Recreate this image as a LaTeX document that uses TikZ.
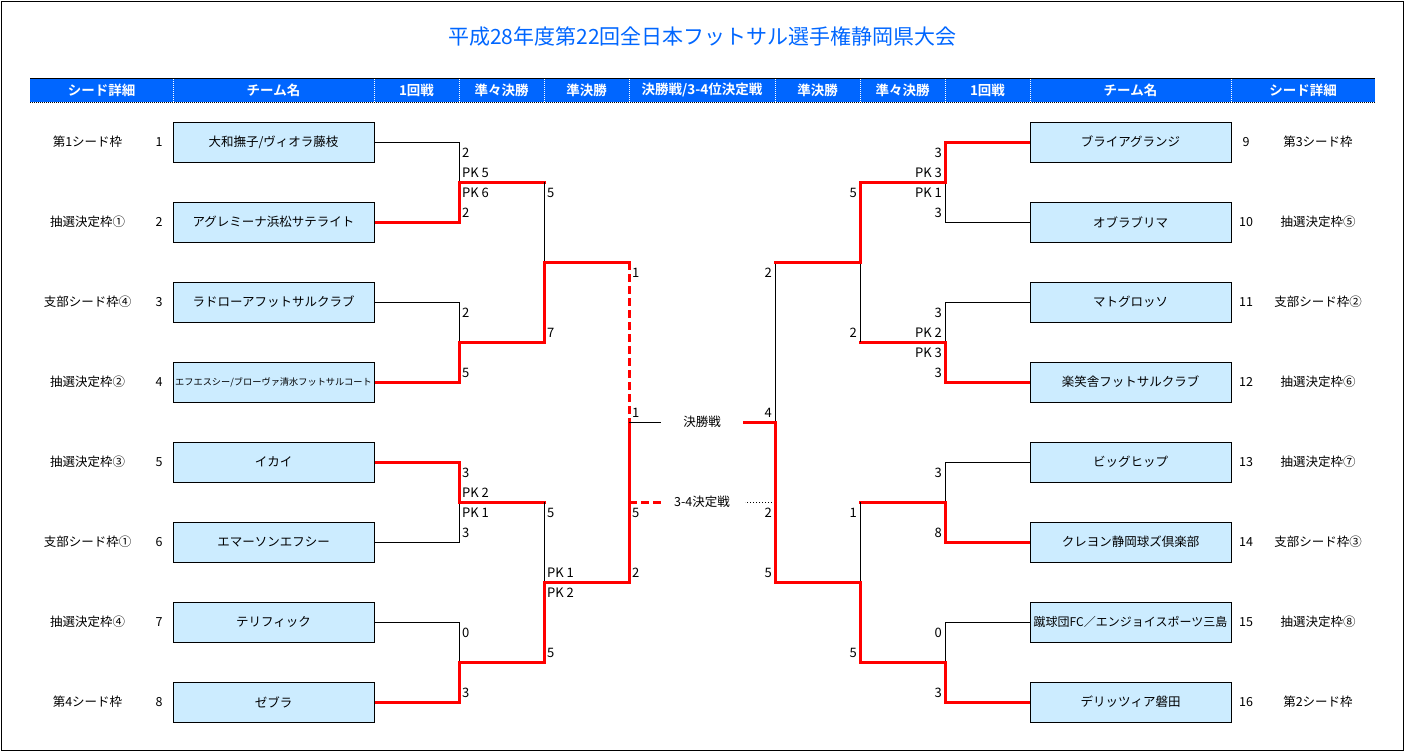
\documentclass[tikz,border=0pt]{standalone}
\usepackage{fontspec}
\setmainfont{Noto Sans CJK JP}[BoldFont={Noto Sans CJK JP Bold}]
\usetikzlibrary{backgrounds}
\definecolor{hdrblue}{RGB}{0,102,255}
\definecolor{boxblue}{RGB}{204,236,255}
\definecolor{winred}{RGB}{255,0,0}
\begin{document}
\begin{tikzpicture}[x=1pt,y=-1pt,
  team/.style={draw=black, line width=1pt, fill=boxblue, minimum width=201pt, minimum height=40pt, inner sep=0pt, font=\fontsize{12.5}{15}\selectfont},
  seedtxt/.style={inner sep=0pt, font=\fontsize{12.5}{15}\selectfont},
  numtxt/.style={inner sep=0pt, font=\fontsize{12.5}{15}\selectfont},
  scl/.style={inner sep=0pt, text height=0.73em, text depth=0pt, font=\fontsize{13}{15}\selectfont},
  hdr/.style={inner sep=0pt, text=white, font=\fontsize{13.5}{16}\selectfont\bfseries},
  lose/.style={line width=1pt, black},
  win/.style={line width=3pt, winred, line cap=rect},
  windash/.style={line width=3pt, winred, line cap=butt, dash pattern=on 8pt off 4pt},
  dotline/.style={line width=1pt, black, dash pattern=on 1pt off 2pt},
  midtxt/.style={inner sep=0pt, font=\fontsize{12.5}{15}\selectfont}
]
\useasboundingbox (0,0) rectangle (1405,753);
\draw[line width=1.2pt] (1.5,1.5) rectangle (1403.5,750.5);
\node[text=hdrblue, font=\fontsize{21}{25}\selectfont, inner sep=0pt] (title) at (702.5,37) {平成28年度第22回全日本フットサル選手権静岡県大会};
% header bar
\fill[hdrblue] (30,78) rectangle (1375,102);
\draw[line width=1pt] (30,78.5) -- (1375,78.5);
\draw[line width=1pt, dash pattern=on 1pt off 1pt] (30,102.5) -- (1375,102.5);
\foreach \x in {173,374,459,544,629,775,860,945,1030,1231}
  \draw[white, line width=1pt, dash pattern=on 1pt off 1pt] (\x,79) -- (\x,102);
\foreach \xx/\tt [count=\i] in {101.5/シード詳細, 273.5/チーム名, 416.5/1回戦, 501.5/準々決勝, 586.5/準決勝, 702/決勝戦{/}3-4位決定戦, 817.5/準決勝, 902.5/準々決勝, 987.5/1回戦, 1130.5/チーム名, 1303/シード詳細}
  \node[hdr] (h\i) at (\xx,90) {\tt};
% teams
\node[team] (t1) at (273.5,142) {大和撫子/ヴィオラ藤枝};
\node[team] (t2) at (273.5,222) {アグレミーナ浜松サテライト};
\node[team] (t3) at (273.5,302) {ラドローアフットサルクラブ};
\node[team, font=\fontsize{9.2}{11}\selectfont] (t4) at (273.5,382) {エフエスシー/ブローヴァ清水フットサルコート};
\node[team] (t5) at (273.5,462) {イカイ};
\node[team] (t6) at (273.5,542) {エマーソンエフシー};
\node[team] (t7) at (273.5,622) {テリフィック};
\node[team] (t8) at (273.5,702) {ゼブラ};
\node[team] (t9) at (1130.5,142) {ブライアグランジ};
\node[team] (t10) at (1130.5,222) {オブラブリマ};
\node[team] (t11) at (1130.5,302) {マトグロッソ};
\node[team] (t12) at (1130.5,382) {楽笑舎フットサルクラブ};
\node[team] (t13) at (1130.5,462) {ビッグヒップ};
\node[team] (t14) at (1130.5,542) {クレヨン静岡球ズ倶楽部};
\node[team, font=\fontsize{12}{14}\selectfont] (t15) at (1130.5,622) {蹴球団FC／エンジョイスポーツ三島};
\node[team] (t16) at (1130.5,702) {デリッツィア磐田};
% seeds and numbers
\foreach \s [count=\i] in {第1シード枠,抽選決定枠①,支部シード枠④,抽選決定枠②,抽選決定枠③,支部シード枠①,抽選決定枠④,第4シード枠}{
  \node[seedtxt] (sdl\i) at (87.5,{62+80*\i}) {\s};
  \node[numtxt] (nl\i) at (159,{62+80*\i}) {\i};
}
\foreach \s [count=\i] in {第3シード枠,抽選決定枠⑤,支部シード枠②,抽選決定枠⑥,抽選決定枠⑦,支部シード枠③,抽選決定枠⑧,第2シード枠}{
  \node[seedtxt] (sdr\i) at (1318,{62+80*\i}) {\s};
  \node[numtxt] (nr\i) at (1246,{62+80*\i}) {\the\numexpr\i+8\relax};
}
% junction coordinates
\coordinate (a1) at (459,182); \coordinate (a2) at (459,342);
\coordinate (a3) at (459,502); \coordinate (a4) at (459,662);
\coordinate (b1) at (544,182); \coordinate (b2) at (544,342);
\coordinate (b3) at (544,502); \coordinate (b4) at (544,662);
\coordinate (c1) at (544,262); \coordinate (c2) at (544,582);
\coordinate (d1) at (629,262); \coordinate (d2) at (629,582);
\coordinate (fL) at (629,422); \coordinate (tL) at (629,502);
\coordinate (fLe) at (661,422); \coordinate (tLe) at (661,502);
\coordinate (a5) at (945,182); \coordinate (a6) at (945,342);
\coordinate (a7) at (945,502); \coordinate (a8) at (945,662);
\coordinate (b5) at (860,182); \coordinate (b6) at (860,342);
\coordinate (b7) at (860,502); \coordinate (b8) at (860,662);
\coordinate (c3) at (860,262); \coordinate (c4) at (860,582);
\coordinate (d3) at (775,262); \coordinate (d4) at (775,582);
\coordinate (fR) at (775,422); \coordinate (tR) at (775,502);
\coordinate (fRe) at (744,422); \coordinate (tRe) at (745,502);
% middle labels
\node[midtxt] (final) at (702,422) {決勝戦};
\node[midtxt] (third) at (702,502) {3-4決定戦};
\begin{scope}[on background layer]
% left side
\draw[lose] (t1.east) -| (a1);
\draw[win] (t2.east) -| (a1) -- (b1);
\draw[lose] (t3.east) -| (a2);
\draw[win] (t4.east) -| (a2) -- (b2);
\draw[lose] (t6.east) -| (a3);
\draw[win] (t5.east) -| (a3) -- (b3);
\draw[lose] (t7.east) -| (a4);
\draw[win] (t8.east) -| (a4) -- (b4);
\draw[lose] (b1) -- (c1);
\draw[lose] (b3) -- (c2);
\draw[windash] (d1) -- (tL) -- (tLe);
\draw[win] (b2) -- (c1) -- (d1);
\draw[win] (b4) -- (c2) -- (d2) -- (fL);
\draw[lose] (fL) -- (fLe);
% right side
\draw[lose] (t10.west) -| (a5);
\draw[win] (t9.west) -| (a5) -- (b5);
\draw[lose] (t11.west) -| (a6);
\draw[win] (t12.west) -| (a6) -- (b6);
\draw[lose] (t13.west) -| (a7);
\draw[win] (t14.west) -| (a7) -- (b7);
\draw[lose] (t15.west) -| (a8);
\draw[win] (t16.west) -| (a8) -- (b8);
\draw[lose] (b6) -- (c3);
\draw[lose] (b7) -- (c4);
\draw[lose] (d3) -- (fR);
\draw[dotline] (tR) -- (tRe);
\draw[win] (b5) -- (c3) -- (d3);
\draw[win] (b8) -- (c4) -- (d4) -- (fR) -- (fRe);
\end{scope}
% score labels, left of bracket lines
\foreach \yy/\tt [count=\i] in {153.5/2,173.5/PK 5,193.5/PK 6,213.5/2,313.5/2,373.5/5,473.5/3,493.5/PK 2,513.5/PK 1,533.5/3,633.5/0,693.5/3}
  \node[scl, anchor=west] (la\i) at (462,\yy) {\tt};
\foreach \yy/\tt [count=\i] in {193.5/5,333.5/7,513.5/5,573.5/PK 1,593.5/PK 2,653.5/5}
  \node[scl, anchor=west] (lb\i) at (547,\yy) {\tt};
\foreach \yy/\tt [count=\i] in {273.5/1,413.5/1,513.5/5,573.5/2}
  \node[scl, anchor=west] (lc\i) at (632,\yy) {\tt};
% score labels, right side
\foreach \yy/\tt [count=\i] in {153.5/3,173.5/PK 3,193.5/PK 1,213.5/3,313.5/3,333.5/PK 2,353.5/PK 3,373.5/3,473.5/3,533.5/8,633.5/0,693.5/3}
  \node[scl, anchor=east] (ra\i) at (942,\yy) {\tt};
\foreach \yy/\tt [count=\i] in {193.5/5,333.5/2,513.5/1,653.5/5}
  \node[scl, anchor=east] (rb\i) at (857,\yy) {\tt};
\foreach \yy/\tt [count=\i] in {273.5/2,413.5/4,513.5/2,573.5/5}
  \node[scl, anchor=east] (rc\i) at (772,\yy) {\tt};
\end{tikzpicture}
\end{document}
